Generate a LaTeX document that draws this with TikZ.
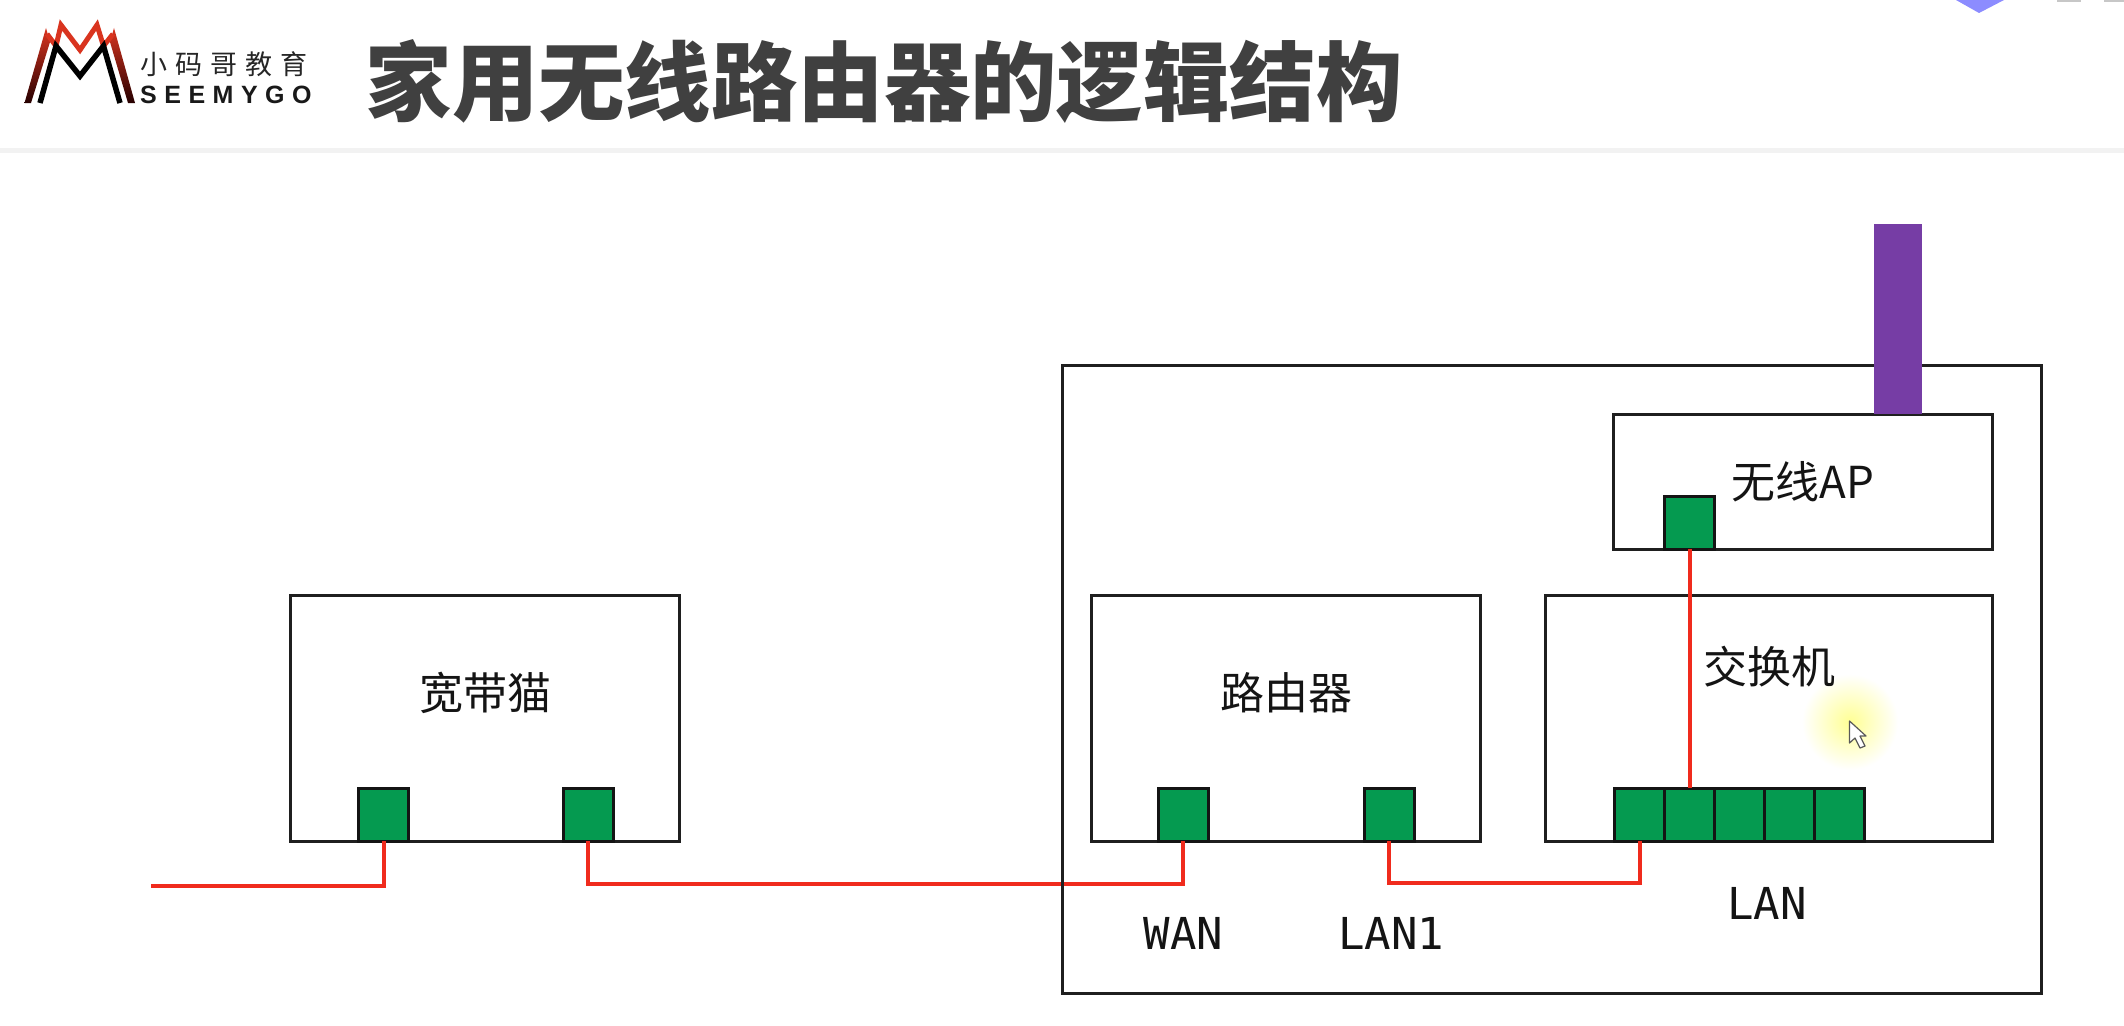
\documentclass[tikz,border=0pt]{standalone}
\usepackage{fontspec}
\setmainfont{Noto Sans CJK SC}
\newfontfamily\titlefont{Noto Sans CJK SC Black}
\newfontfamily\logozh[LetterSpace=30]{Noto Sans CJK SC}
\newfontfamily\logoen[LetterSpace=30]{Liberation Sans}
\newfontfamily\portfont{DejaVu Sans Mono}
\definecolor{portgreen}{HTML}{059A50}
\definecolor{wirered}{HTML}{F02B1D}
\definecolor{antenna}{HTML}{763DA5}
\definecolor{titlegrey}{HTML}{404040}
\definecolor{logored}{HTML}{D9341F}
\usetikzlibrary{calc}
\tikzset{
  box/.style={draw=black!88,line width=3pt,rectangle,inner sep=0pt,outer sep=0pt},
  device/.style={box,minimum width=389pt,minimum height=246pt},
  port/.style={draw=black!92,line width=3pt,fill=portgreen,rectangle,inner sep=0pt,outer sep=0pt,minimum width=50pt,minimum height=53pt},
  wire/.style={draw=wirered,line width=4pt,line join=miter},
  devlabel/.style={font=\fontsize{44}{50}\selectfont,text=black!92,inner sep=0pt},
  portlabel/.style={font=\portfont\fontsize{44}{50}\selectfont,text=black!92,inner sep=0pt},
}
\begin{document}
\begin{tikzpicture}[x=1pt,y=-1pt]
\useasboundingbox (0,0) rectangle (2124,1025);
\fill[white] (0,0) rectangle (2124,1025);
% header
\fill[black!5] (0,148) rectangle (2124,153);
\node[inner sep=0pt,text=titlegrey,font=\titlefont\fontsize{86.4}{100}\selectfont] (title) at (884,81) {家用无线路由器的逻辑结构};
% logo
\shade[top color=logored,bottom color=black!85!red] (24.5,103) -- (46,28) -- (50,42) -- (31,103) -- cycle;
\shade[top color=logored,bottom color=black!85!red] (135,103) -- (114,28) -- (110,42) -- (128,103) -- cycle;
\draw[logored,line width=5pt,line join=miter] (47,34) -- (56,46) -- (61,25) -- (80,50) -- (97,25) -- (103.5,46) -- (113,34);
\draw[black,line width=5.5pt,line join=miter] (40,103) -- (56,46) -- (80,76) -- (103.5,46) -- (120,103);
\node[inner sep=0pt,anchor=west,text=black!85,font=\logozh\fontsize{27}{30}\selectfont] (logocn) at (140,64) {小码哥教育};
\node[inner sep=0pt,anchor=west,text=black!90,font=\logoen\bfseries\fontsize{25}{30}\selectfont] (logoen) at (140,95) {SEEMYGO};
% top-right remnants of the video frame
\fill[blue!45!white] (1956,0) -- (2004,0) -- (1979,13) -- cycle;
\fill[black!22] (2057,0) rectangle (2081,2);
\fill[black!22] (2104,0) rectangle (2124,2);
% devices
\node[device] (modem) at (485,718) {};
\node[device] (router) at (1286,718) {};
\node[box,minimum width=447pt,minimum height=246pt] (switch) at (1769,718) {};
\node[box,minimum width=379pt,minimum height=135pt] (ap) at (1803,481.5) {};
% cursor highlight
\shade[inner color=yellow!42,outer color=white] (1850,722) circle (48);
\draw[black!65,fill=white,line width=1.2pt,line join=round] (1849.5,721) -- (1849.5,743) -- (1855,738) -- (1860,748) -- (1865,746) -- (1860,736) -- (1866,736) -- cycle;
% ports
\node[port] (mp1) at (383.5,814.5) {};
\node[port] (mp2) at (588,814.5) {};
\node[port] (rp1) at (1183,814.5) {};
\node[port] (rp2) at (1389,814.5) {};
\node[port] (sp1) at (1639.5,814.5) {};
\node[port] (sp2) at (1689.5,814.5) {};
\node[port] (sp3) at (1739.5,814.5) {};
\node[port] (sp4) at (1789.5,814.5) {};
\node[port] (sp5) at (1839.5,814.5) {};
\node[port] (app) at (1689.5,522.5) {};
% connectors
\coordinate (inlet) at (151,886);
\draw[wire] (inlet) -| (mp1.south);
\draw[wire] (mp2.south) -- ++(0,43) -| (rp1.south);
\draw[wire] (rp2.south) -- ++(0,42) -| (sp1.south);
\draw[wire] (sp2.north) -- (app.south);
% outer casing and antenna
\node[box,minimum width=979pt,minimum height=628pt] (casing) at (1551.5,679) {};
\node[fill=antenna,rectangle,inner sep=0pt,outer sep=0pt,minimum width=48pt,minimum height=190pt] (antennabar) at (1898,319) {};
% labels
\node[devlabel] (lmodem) at (485,693) {宽带猫};
\node[devlabel] (lrouter) at (1286,693) {路由器};
\node[devlabel] (lswitch) at (1769,667) {交换机};
\node[devlabel] (lap) at (1803,482) {无线AP};
\node[portlabel] (lwan) at (1183.5,933) {WAN};
\node[portlabel] (llan1) at (1391,933) {LAN1};
\node[portlabel] (llan) at (1767,903) {LAN};
\end{tikzpicture}
\end{document}
